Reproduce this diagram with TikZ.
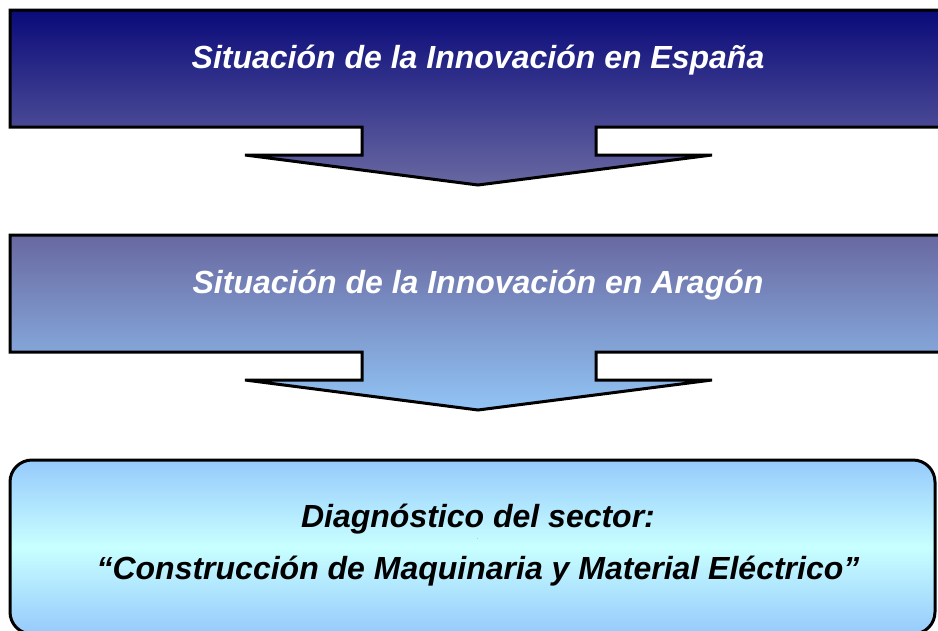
\documentclass[tikz,border=0pt]{standalone}
\usepackage{fontspec}
\setmainfont{Liberation Sans}
\definecolor{navyTop}{RGB}{10,10,122}
\definecolor{navyBot}{RGB}{104,104,162}
\definecolor{midTop}{RGB}{104,104,160}
\definecolor{midBot}{RGB}{146,196,245}
\definecolor{lowEdge}{RGB}{150,202,252}
\definecolor{lowMid}{RGB}{200,255,255}
\tikzset{
  stage/.style={draw=black, line width=3pt, line join=miter},
  title/.style={font=\fontsize{32}{38}\selectfont\bfseries\itshape, inner sep=0pt},
}
\begin{document}
\begin{tikzpicture}[x=1pt,y=-1pt]
\useasboundingbox (0,0) rectangle (938,630);
\clip (0,0) rectangle (938,630);
% stage 1
\path[stage, top color=navyTop, bottom color=navyBot]
  (10,10) -- (960,10) -- (960,127) -- (596,127) -- (596,155) -- (712,155)
  -- (478,185) -- (245,155) -- (362,155) -- (362,127) -- (10,127) -- cycle;
% stage 2
\path[stage, top color=midTop, bottom color=midBot]
  (10,235) -- (960,235) -- (960,352) -- (596,352) -- (596,380) -- (712,380)
  -- (478,410) -- (245,380) -- (362,380) -- (362,352) -- (10,352) -- cycle;
% stage 3
\path[stage, rounded corners=22pt, top color=lowEdge, bottom color=lowEdge, middle color=lowMid]
  (10,460) rectangle (935,634);
\node[title, text=white] (espana) at (478,60) {Situación de la Innovación en España};
\node[title, text=white] (aragon) at (478,285) {Situación de la Innovación en Aragón};
\node[title, text=black] (diag) at (478,519) {Diagnóstico del sector:};
\node[font=\fontsize{4}{5}\selectfont, inner sep=0pt] (dot) at (478,539) {.};
\node[title, text=black] (sector) at (478,571) {“Construcción de Maquinaria y Material Eléctrico”};
\end{tikzpicture}
\end{document}
